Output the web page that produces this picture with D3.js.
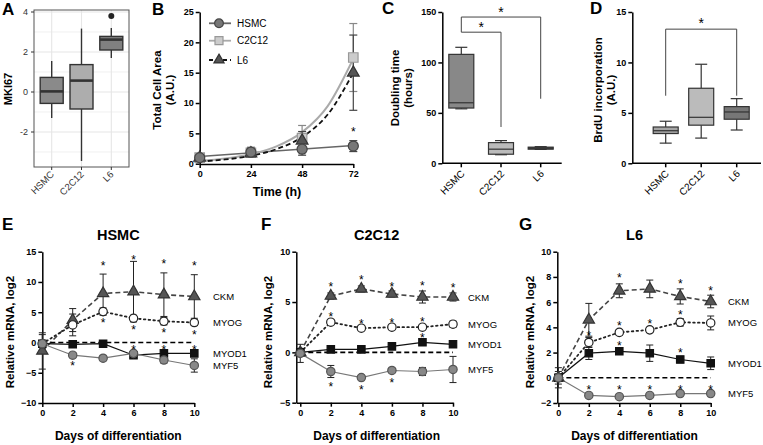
<!DOCTYPE html>
<html>
<head>
<meta charset="utf-8">
<script src="https://cdn.jsdelivr.net/npm/d3@7"></script>
<style>
body { margin: 0; background: #fff; }
svg { font-family: "Liberation Sans", Arial, sans-serif; }
</style>
</head>
<body>
<script>
// ---------- data ----------
// A: MKI67 boxplot
const aGroups = ["HSMC", "C2C12", "L6"];
const aMin = [-1.3, -3.45, 1.7];
const aQ1 = [-0.57, -0.85, 2.1];
const aMed = [0.03, 0.57, 2.62];
const aQ3 = [0.73, 1.37, 2.78];
const aMax = [1.55, 3.17, 3.2];
const aOutGroup = ["L6"];
const aOutVal = [3.8];
const aTicks = [-2, 0, 2, 4];

// B: total cell area
const bTimes = [0, 24, 48, 72];
const bHSMC = [1.0, 1.9, 2.4, 2.9];
const bHSMCErr = [0.3, 0.8, 1.0, 0.9];
const bC2C12 = [1.0, 1.8, 4.2, 17.5];
const bC2C12Err = [0.2, 0.6, 2.1, 5.6];
const bL6 = [1.0, 1.7, 3.8, 15.0];
const bL6Err = [0.2, 0.5, 1.5, 6.2];
const bFitTimes = [0, 12, 24, 36, 48, 60, 72];
const bFitC2C12 = [0.47, 0.86, 1.56, 2.85, 5.2, 9.5, 17.3];
const bFitL6 = [0.35, 0.7, 1.3, 2.4, 4.4, 8.1, 15.0];
const bFitHSMCTimes = [0, 72];
const bFitHSMC = [1.2, 3.0];
const bStarTime = [72];
const bStarVal = [5.8];

// C: doubling time
const cGroups = ["HSMC", "C2C12", "L6"];
const cMin = [54, 8.5, 13.8];
const cQ1 = [54.8, 9, 14];
const cMed = [60, 14, 15];
const cQ3 = [108, 20.5, 16];
const cMax = [115, 22.5, 16.5];
const cBracketTo = ["C2C12", "L6"];
const cBracketTop = [130, 145];
const cBracketEnd = [36, 64];

// D: BrdU incorporation
const dGroups = ["HSMC", "C2C12", "L6"];
const dMin = [2.0, 2.5, 3.3];
const dQ1 = [2.95, 3.78, 4.37];
const dMed = [3.23, 4.56, 5.09];
const dQ3 = [3.6, 7.44, 5.62];
const dMax = [4.17, 9.82, 6.41];
const dBracketTop = 13.3;
const dBracketEnd = 6.7;

// E-G: relative mRNA
const days = [0, 2, 4, 6, 8, 10];
const genes = ["CKM", "MYOG", "MYOD1", "MYF5"];

const eCKM = [-1.4, 3.7, 8.1, 8.4, 7.9, 7.6];
const eCKMErr = [3.0, 1.9, 3.2, 5.0, 3.6, 3.6];
const eMYOG = [-0.2, 2.9, 5.1, 4.0, 3.5, 3.3];
const eMYOGErr = [1.5, 1.8, 0.6, 0.5, 0.6, 0.5];
const eMYOD1 = [-0.2, -0.3, -0.2, -2.1, -1.8, -1.8];
const eMYOD1Err = [0.5, 0.3, 0.3, 0.3, 0.4, 0.5];
const eMYF5 = [-0.2, -2.1, -2.6, -1.8, -2.9, -3.8];
const eMYF5Err = [0.5, 0.4, 0.4, 0.4, 0.5, 1.1];
const eStarDays = [4, 6, 8, 10, 4, 6, 8, 10, 6, 8, 10, 2];
const eStarVals = [13.1, 14.0, 13.4, 13.0, 3.6, 2.4, 2.0, 1.7, -0.8, -0.8, -0.8, -3.5];

const fCKM = [0, 5.6, 6.3, 5.8, 5.5, 5.5];
const fCKMErr = [0.3, 0.3, 0.3, 0.3, 0.6, 0.4];
const fMYOG = [0, 3.0, 2.4, 2.5, 2.5, 2.8];
const fMYOGErr = [0.3, 0.2, 0.2, 0.2, 0.2, 0.3];
const fMYOD1 = [0, 0.3, 0.3, 0.6, 1.0, 0.8];
const fMYOD1Err = [0.2, 0.2, 0.2, 0.2, 0.2, 0.2];
const fMYF5 = [-0.1, -1.9, -2.5, -1.8, -1.9, -1.7];
const fMYF5Err = [0.9, 0.6, 0.2, 0.2, 0.4, 1.3];
const fStarDays = [2, 4, 6, 8, 10, 2, 4, 6, 8, 8, 2, 4, 6];
const fStarVals = [6.7, 7.4, 6.7, 6.8, 6.6, 3.8, 3.1, 3.2, 3.3, 1.7, -3.2, -3.5, -2.8];

const gCKM = [0, 4.6, 6.9, 7.05, 6.45, 6.05];
const gCKMErr = [0.5, 1.3, 0.55, 0.7, 0.6, 0.5];
const gMYOG = [0, 2.8, 3.6, 3.8, 4.4, 4.35];
const gMYOGErr = [0.3, 0.4, 0.2, 0.2, 0.3, 0.55];
const gMYOD1 = [0, 1.95, 2.1, 1.95, 1.45, 1.15];
const gMYOD1Err = [0.8, 0.5, 0.2, 0.65, 0.25, 0.5];
const gMYF5 = [0, -1.4, -1.5, -1.4, -1.25, -1.25];
const gMYF5Err = [0.2, 0.1, 0.1, 0.1, 0.1, 0.1];
const gStarDays = [4, 8, 10, 2, 4, 6, 8, 4, 8, 2, 4, 6, 8, 10];
const gStarVals = [8.1, 7.6, 7.1, 3.5, 4.3, 4.5, 5.2, 2.75, 2.2, -0.8, -0.8, -0.8, -0.75, -0.75];

// ---------- svg ----------
const svg = d3.select("body").append("svg")
  .attr("width", 763)
  .attr("height", 445);

// panel letters
[["A", 2, 15], ["B", 152, 15], ["C", 382, 14], ["D", 590, 14],
 ["E", 2, 230], ["F", 261, 230], ["G", 519, 230]].forEach(p => {
  svg.append("text").attr("x", p[1]).attr("y", p[2])
    .attr("font-size", 17).attr("font-weight", "bold").text(p[0]);
});

function rotLabel(lines, x, y, size) {
  lines.forEach((t, i) => {
    svg.append("text")
      .attr("transform", `translate(${x + i * 13},${y}) rotate(-90)`)
      .attr("text-anchor", "middle")
      .attr("font-size", size).attr("font-weight", "bold")
      .text(t);
  });
}

function styleAxis(g, w) {
  g.selectAll("path, line").attr("stroke", "#000").attr("stroke-width", w);
  g.selectAll("text").attr("font-size", 9).attr("font-weight", "bold").attr("fill", "#000")
    .attr("font-family", "Liberation Sans, Arial, sans-serif");
}

// ---------- A ----------
{
  const x = d3.scalePoint().domain(aGroups).range([51.7, 111.3]);
  const y = d3.scaleLinear().domain([-3.75, 4.1]).range([167, 10]);
  const g = svg.append("g");
  // grid
  d3.range(-3, 5).forEach(v => {
    g.append("line").attr("x1", 34).attr("x2", 129).attr("y1", y(v)).attr("y2", y(v))
      .attr("stroke", "#e6e6e6").attr("stroke-width", v % 2 === 0 ? 1.1 : 0.6);
  });
  aGroups.forEach(c => {
    g.append("line").attr("x1", x(c)).attr("x2", x(c)).attr("y1", 10).attr("y2", 167)
      .attr("stroke", "#e6e6e6").attr("stroke-width", 1.1);
  });
  const fills = ["#8a8a8a", "#adadad", "#808080"];
  const bw = 23;
  aGroups.forEach((c, i) => {
    const cx = x(c);
    g.append("line").attr("x1", cx).attr("x2", cx).attr("y1", y(aMax[i])).attr("y2", y(aMin[i]))
      .attr("stroke", "#333").attr("stroke-width", 1.4);
    g.append("rect").attr("x", cx - bw / 2).attr("width", bw)
      .attr("y", y(aQ3[i])).attr("height", y(aQ1[i]) - y(aQ3[i]))
      .attr("fill", fills[i]).attr("stroke", "#333").attr("stroke-width", 1.4);
    g.append("line").attr("x1", cx - bw / 2).attr("x2", cx + bw / 2)
      .attr("y1", y(aMed[i])).attr("y2", y(aMed[i]))
      .attr("stroke", "#333").attr("stroke-width", 2.6);
  });
  aOutGroup.forEach((c, i) => {
    g.append("circle").attr("cx", x(c)).attr("cy", y(aOutVal[i])).attr("r", 3)
      .attr("fill", "#222");
  });
  g.append("rect").attr("x", 34).attr("y", 10).attr("width", 95).attr("height", 157)
    .attr("fill", "none").attr("stroke", "#555").attr("stroke-width", 1);
  // ticks
  aTicks.forEach(v => {
    g.append("line").attr("x1", 31).attr("x2", 34).attr("y1", y(v)).attr("y2", y(v))
      .attr("stroke", "#333");
    g.append("text").attr("x", 28).attr("y", y(v) + 3).attr("text-anchor", "end")
      .attr("font-size", 9).attr("fill", "#333").text(v);
  });
  aGroups.forEach(c => {
    g.append("line").attr("x1", x(c)).attr("x2", x(c)).attr("y1", 167).attr("y2", 170)
      .attr("stroke", "#333");
    g.append("text").attr("transform", `translate(${x(c) + 3},${175}) rotate(-45)`)
      .attr("text-anchor", "end").attr("font-size", 9.5).attr("fill", "#333").text(c);
  });
  rotLabel(["MKI67"], 12, 89, 11);
}

// ---------- B ----------
{
  const x = d3.scaleLinear().domain([0, 72]).range([199.7, 353.3]);
  const y = d3.scaleLinear().domain([0, 25]).range([163.7, 12]);
  const g = svg.append("g");
  const ax = g.append("g").attr("transform", "translate(0,164)")
    .call(d3.axisBottom(x).tickValues(bTimes).tickSize(4).tickSizeOuter(0).tickPadding(3));
  styleAxis(ax, 1.5);
  const ay = g.append("g").attr("transform", "translate(199.7,0)")
    .call(d3.axisLeft(y).tickValues([0, 5, 10, 15, 20, 25]).tickSize(4).tickSizeOuter(0).tickPadding(2));
  styleAxis(ay, 1.5);

  const line = d3.line().x(d => x(d[0])).y(d => y(d[1])).curve(d3.curveMonotoneX);
  g.append("path").attr("d", line(bFitHSMCTimes.map((t, i) => [t, bFitHSMC[i]])))
    .attr("fill", "none").attr("stroke", "#666").attr("stroke-width", 1.5);
  g.append("path").attr("d", line(bFitTimes.map((t, i) => [t, bFitC2C12[i]])))
    .attr("fill", "none").attr("stroke", "#aaa").attr("stroke-width", 2);
  g.append("path").attr("d", line(bFitTimes.map((t, i) => [t, bFitL6[i]])))
    .attr("fill", "none").attr("stroke", "#111").attr("stroke-width", 1.8)
    .attr("stroke-dasharray", "5,3");

  const series = [
    { v: bC2C12, e: bC2C12Err, sym: d3.symbolSquare, size: 90, fill: "#ccc", stroke: "#999", eb: "#888" },
    { v: bL6, e: bL6Err, sym: d3.symbolTriangle, size: 60, fill: "#555", stroke: "#333", eb: "#444" },
    { v: bHSMC, e: bHSMCErr, sym: d3.symbolCircle, size: 80, fill: "#777", stroke: "#444", eb: "#444" }
  ];
  series.forEach(s => {
    bTimes.forEach((t, i) => {
      const cx = x(t);
      g.append("line").attr("x1", cx).attr("x2", cx)
        .attr("y1", y(s.v[i] + s.e[i])).attr("y2", y(Math.max(0, s.v[i] - s.e[i])))
        .attr("stroke", s.eb).attr("stroke-width", 1.2);
      [s.v[i] + s.e[i], Math.max(0, s.v[i] - s.e[i])].forEach(v => {
        g.append("line").attr("x1", cx - 4).attr("x2", cx + 4).attr("y1", y(v)).attr("y2", y(v))
          .attr("stroke", s.eb).attr("stroke-width", 1.2);
      });
    });
  });
  series.forEach(s => {
    bTimes.forEach((t, i) => {
      g.append("path").attr("d", d3.symbol(s.sym, s.size)())
        .attr("transform", `translate(${x(t)},${y(s.v[i])})`)
        .attr("fill", s.fill).attr("stroke", s.stroke).attr("stroke-width", 1.2);
    });
  });
  bStarTime.forEach((t, i) => {
    g.append("text").attr("x", x(t)).attr("y", y(bStarVal[i]) + 7)
      .attr("text-anchor", "middle").attr("font-size", 12).text("*");
  });
  // legend
  const leg = [
    { n: "HSMC", sym: d3.symbolCircle, size: 60, fill: "#777", stroke: "#444", line: "#666", dash: null },
    { n: "C2C12", sym: d3.symbolSquare, size: 64, fill: "#ccc", stroke: "#999", line: "#aaa", dash: null },
    { n: "L6", sym: d3.symbolTriangle, size: 45, fill: "#555", stroke: "#333", line: "#111", dash: "4,3" }
  ];
  leg.forEach((l, i) => {
    const ly = [23.3, 40.7, 60][i];
    g.append("line").attr("x1", 209).attr("x2", 231).attr("y1", ly).attr("y2", ly)
      .attr("stroke", l.line).attr("stroke-width", 1.8).attr("stroke-dasharray", l.dash);
    g.append("path").attr("d", d3.symbol(l.sym, l.size)())
      .attr("transform", `translate(219,${ly})`)
      .attr("fill", l.fill).attr("stroke", l.stroke).attr("stroke-width", 1.2);
    g.append("text").attr("x", 237).attr("y", ly + 3.5).attr("font-size", 10).text(l.n);
  });
  rotLabel(["Total Cell Area", "(A.U.)"], 161, 90, 11.5);
  g.append("text").attr("x", 277).attr("y", 196).attr("text-anchor", "middle")
    .attr("font-size", 12.5).attr("font-weight", "bold").text("Time (h)");
}

// ---------- C / D box plots ----------
function prismBox(groups, mins, q1s, meds, q3s, maxs, fills, x, y) {
  const g = svg.append("g");
  const bw = 25;
  groups.forEach((c, i) => {
    const cx = x(c);
    [[maxs[i], q3s[i]], [q1s[i], mins[i]]].forEach(p => {
      g.append("line").attr("x1", cx).attr("x2", cx).attr("y1", y(p[0])).attr("y2", y(p[1]))
        .attr("stroke", "#333").attr("stroke-width", 1.2);
    });
    [maxs[i], mins[i]].forEach(v => {
      g.append("line").attr("x1", cx - 6).attr("x2", cx + 6).attr("y1", y(v)).attr("y2", y(v))
        .attr("stroke", "#333").attr("stroke-width", 1.2);
    });
    g.append("rect").attr("x", cx - bw / 2).attr("width", bw)
      .attr("y", y(q3s[i])).attr("height", Math.max(1, y(q1s[i]) - y(q3s[i])))
      .attr("fill", fills[i]).attr("stroke", "#333").attr("stroke-width", 1.2);
    g.append("line").attr("x1", cx - bw / 2).attr("x2", cx + bw / 2)
      .attr("y1", y(meds[i])).attr("y2", y(meds[i]))
      .attr("stroke", "#333").attr("stroke-width", 1.2);
  });
  return g;
}

function catAxes(g, x, y, yTicks, x0, x1) {
  const ay = g.append("g").attr("transform", `translate(${x0},0)`)
    .call(d3.axisLeft(y).tickValues(yTicks).tickSize(4).tickSizeOuter(0).tickPadding(2));
  styleAxis(ay, 1.5);
  const yb = y.range()[0];
  g.append("line").attr("x1", x0).attr("x2", x1).attr("y1", yb).attr("y2", yb)
    .attr("stroke", "#000").attr("stroke-width", 1.5);
  x.domain().forEach(c => {
    g.append("line").attr("x1", x(c)).attr("x2", x(c)).attr("y1", yb).attr("y2", yb + 4)
      .attr("stroke", "#000").attr("stroke-width", 1.5);
    g.append("text").attr("transform", `translate(${x(c) + 4},${yb + 11}) rotate(-45)`)
      .attr("text-anchor", "end").attr("font-size", 10).text(c);
  });
}

{
  const x = d3.scalePoint().domain(cGroups).range([461.3, 540.7]);
  const y = d3.scaleLinear().domain([0, 150]).range([163.3, 12]);
  const g = prismBox(cGroups, cMin, cQ1, cMed, cQ3, cMax, ["#888", "#bbb", "#555"], x, y);
  catAxes(g, x, y, [0, 50, 100, 150], 442.3, 561.7);
  const x0 = x("HSMC");
  cBracketTo.forEach((c, i) => {
    const top = y(cBracketTop[i]);
    g.append("path")
      .attr("d", `M${x0},${y(cBracketTop[0])}V${top}H${x(c)}V${y(cBracketEnd[i])}`)
      .attr("fill", "none").attr("stroke", "#444").attr("stroke-width", 1);
    g.append("text").attr("x", (x0 + x(c)) / 2).attr("y", top - 0.5)
      .attr("text-anchor", "middle").attr("font-size", 14).text("*");
  });
  rotLabel(["Doubling time", "(hours)"], 399, 88, 11.5);
}

{
  const x = d3.scalePoint().domain(dGroups).range([665.7, 736.7]);
  const y = d3.scaleLinear().domain([0, 15]).range([163.3, 12]);
  const g = prismBox(dGroups, dMin, dQ1, dMed, dQ3, dMax, ["#a5a5a5", "#bbb", "#777"], x, y);
  catAxes(g, x, y, [0, 5, 10, 15], 632.3, 761);
  const xa = x("HSMC"), xb = x("L6");
  g.append("path")
    .attr("d", `M${xa},${y(dBracketEnd)}V${y(dBracketTop)}H${xb}V${y(dBracketEnd)}`)
    .attr("fill", "none").attr("stroke", "#444").attr("stroke-width", 1);
  g.append("text").attr("x", (xa + xb) / 2).attr("y", y(dBracketTop) - 1)
    .attr("text-anchor", "middle").attr("font-size", 14).text("*");
  rotLabel(["BrdU incorporation", "(A.U.)"], 602, 90, 11.5);
}

// ---------- E-G line panels ----------
const geneStyle = {
  CKM: { sym: d3.symbolTriangle, size: 55, fill: "#555", stroke: "#333", line: "#444", dash: "5,3", lw: 1.6 },
  MYOG: { sym: d3.symbolCircle, size: 55, fill: "#fff", stroke: "#222", line: "#222", dash: "1.6,3.2", lw: 1.8 },
  MYOD1: { sym: d3.symbolSquare, size: 55, fill: "#111", stroke: "#111", line: "#111", dash: null, lw: 1.2 },
  MYF5: { sym: d3.symbolCircle, size: 55, fill: "#888", stroke: "#555", line: "#777", dash: null, lw: 1.2 }
};

function linePanel(p) {
  const g = svg.append("g");
  const x = d3.scaleLinear().domain(p.xDom).range(p.xRange);
  const y = d3.scaleLinear().domain(p.yDom).range([p.yBottom, 251.7]);
  const ax = g.append("g").attr("transform", `translate(0,${p.yBottom})`)
    .call(d3.axisBottom(x).tickValues(days).tickSize(4).tickSizeOuter(0).tickPadding(3));
  styleAxis(ax, 1.5);
  const ay = g.append("g").attr("transform", `translate(${p.xRange[0]},0)`)
    .call(d3.axisLeft(y).tickValues(p.yTicks).tickSize(4).tickSizeOuter(0).tickPadding(2));
  styleAxis(ay, 1.5);

  const line = d3.line().x((d, i) => x(days[i])).y(d => y(d));
  genes.forEach(gn => {
    const s = geneStyle[gn];
    g.append("path").attr("d", line(p.vals[gn])).attr("fill", "none")
      .attr("stroke", s.line).attr("stroke-width", s.lw)
      .attr("stroke-dasharray", s.dash).attr("stroke-linecap", gn === "MYOG" ? "round" : "butt");
  });
  g.append("line").attr("x1", x(0)).attr("x2", x(10)).attr("y1", y(0)).attr("y2", y(0))
    .attr("stroke", "#000").attr("stroke-width", 1.6).attr("stroke-dasharray", "5,3");
  genes.forEach(gn => {
    const v = p.vals[gn], e = p.errs[gn];
    days.forEach((d, i) => {
      const cx = x(d);
      g.append("line").attr("x1", cx).attr("x2", cx).attr("y1", y(v[i] + e[i])).attr("y2", y(v[i] - e[i]))
        .attr("stroke", "#222").attr("stroke-width", 1);
      [v[i] + e[i], v[i] - e[i]].forEach(w => {
        g.append("line").attr("x1", cx - 3.5).attr("x2", cx + 3.5).attr("y1", y(w)).attr("y2", y(w))
          .attr("stroke", "#222").attr("stroke-width", 1);
      });
    });
  });
  genes.forEach(gn => {
    const s = geneStyle[gn];
    p.vals[gn].forEach((v, i) => {
      g.append("path").attr("d", d3.symbol(s.sym, s.size)())
        .attr("transform", `translate(${x(days[i])},${y(v)})`)
        .attr("fill", s.fill).attr("stroke", s.stroke).attr("stroke-width", 1.2);
    });
    const last = p.vals[gn][days.length - 1];
    g.append("text").attr("x", p.labelX).attr("y", y(last) + 3.5)
      .attr("font-size", 9.5).text(gn);
  });
  p.starDays.forEach((d, i) => {
    g.append("text").attr("x", x(d)).attr("y", y(p.starVals[i]) + 6.5)
      .attr("text-anchor", "middle").attr("font-size", 12).text("*");
  });
  const mid = (x(0) + x(10)) / 2;
  g.append("text").attr("x", mid).attr("y", 240).attr("text-anchor", "middle")
    .attr("font-size", 14.5).attr("font-weight", "bold").text(p.title);
  g.append("text").attr("x", mid).attr("y", 440).attr("text-anchor", "middle")
    .attr("font-size", 12).attr("font-weight", "bold").text("Days of differentiation");
  rotLabel(["Relative mRNA, log2"], p.ylabX, 332, 11.5);
}

linePanel({
  title: "HSMC", xDom: [0, 10], xRange: [42.3, 194.3], yDom: [-10, 15], yBottom: 403,
  yTicks: [-10, -5, 0, 5, 10, 15], labelX: 213, ylabX: 14,
  vals: { CKM: eCKM, MYOG: eMYOG, MYOD1: eMYOD1, MYF5: eMYF5 },
  errs: { CKM: eCKMErr, MYOG: eMYOGErr, MYOD1: eMYOD1Err, MYF5: eMYF5Err },
  starDays: eStarDays, starVals: eStarVals
});
linePanel({
  title: "C2C12", xDom: [-0.26, 10], xRange: [296.3, 453], yDom: [-5, 10], yBottom: 402.7,
  yTicks: [-5, 0, 5, 10], labelX: 468, ylabX: 272,
  vals: { CKM: fCKM, MYOG: fMYOG, MYOD1: fMYOD1, MYF5: fMYF5 },
  errs: { CKM: fCKMErr, MYOG: fMYOGErr, MYOD1: fMYOD1Err, MYF5: fMYF5Err },
  starDays: fStarDays, starVals: fStarVals
});
linePanel({
  title: "L6", xDom: [-0.07, 10], xRange: [557.3, 710.7], yDom: [-2, 10], yBottom: 403,
  yTicks: [-2, 0, 2, 4, 6, 8, 10], labelX: 728, ylabX: 534,
  vals: { CKM: gCKM, MYOG: gMYOG, MYOD1: gMYOD1, MYF5: gMYF5 },
  errs: { CKM: gCKMErr, MYOG: gMYOGErr, MYOD1: gMYOD1Err, MYF5: gMYF5Err },
  starDays: gStarDays, starVals: gStarVals
});
</script>
</body>
</html>
